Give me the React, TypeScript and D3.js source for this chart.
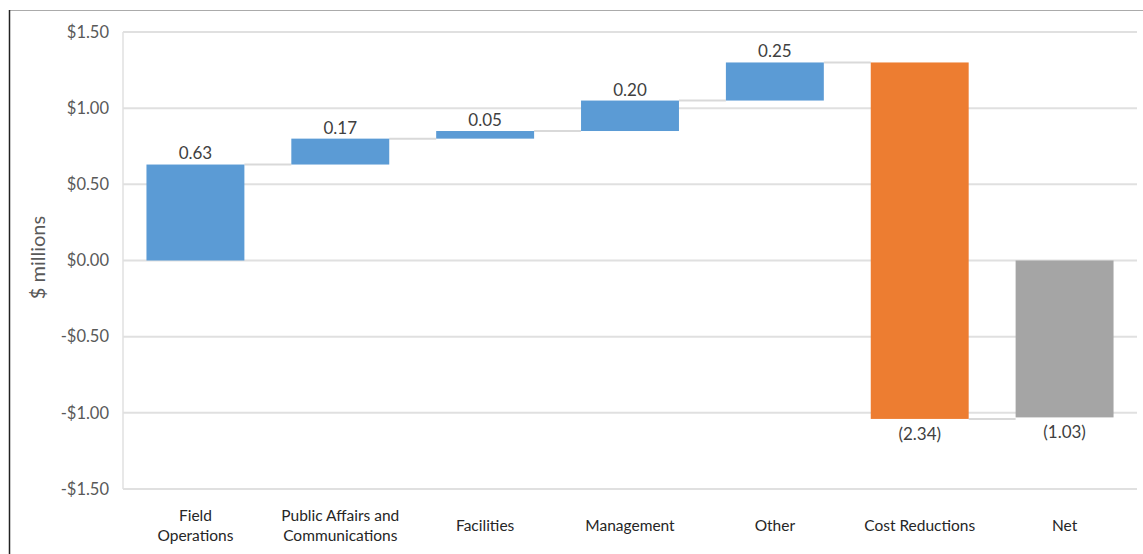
import React from "react";
import * as d3 from "d3";

// Waterfall components, in $ millions
const categories = [
  ["Field", "Operations"],
  ["Public Affairs and", "Communications"],
  ["Facilities"],
  ["Management"],
  ["Other"],
  ["Cost Reductions"],
  ["Net"],
];
const deltas = [0.63, 0.17, 0.05, 0.2, 0.25, -2.34];
const netValue = -1.03;
const dataLabels = ["0.63", "0.17", "0.05", "0.20", "0.25", "(2.34)", "(1.03)"];
const yTicks = [1.5, 1.0, 0.5, 0.0, -0.5, -1.0, -1.5];

const W = 1143;
const H = 554;
const plot = { left: 123, right: 1137, top: 32, bottom: 489 };
const FONT = "Lato, 'Open Sans', sans-serif";

export default function App() {
  const x = d3
    .scaleBand<number>()
    .domain(d3.range(categories.length))
    .range([plot.left, plot.right])
    .paddingInner(0.324)
    .paddingOuter(0.162);
  const y = d3.scaleLinear().domain([-1.5, 1.5]).range([plot.bottom, plot.top]);

  // floating segments
  const bars: { y0: number; y1: number; color: string }[] = [];
  let run = 0;
  deltas.forEach((d, i) => {
    const start = run;
    run += d;
    bars.push({ y0: start, y1: run, color: i === deltas.length - 1 ? "#ED7D31" : "#5B9BD5" });
  });
  bars.push({ y0: 0, y1: netValue, color: "#A5A5A5" });

  const fmt = (v: number) => (v < 0 ? "-$" : "$") + Math.abs(v).toFixed(2);

  return (
    <svg width={W} height={H} style={{ display: "block", position: "absolute", left: 0, top: 0 }}>
      <rect x={0} y={0} width={W} height={H} fill="#fff" />
      {/* frame */}
      <line x1={9} x2={W} y1={10.5} y2={10.5} stroke="#ababab" />
      <line x1={9.5} x2={9.5} y1={10} y2={H} stroke="#222" strokeWidth={1.5} />

      {/* gridlines */}
      {yTicks.map((t) => (
        <line key={t} x1={plot.left} x2={plot.right} y1={y(t)} y2={y(t)} stroke="#e0e0e0" strokeWidth={2} />
      ))}
      <line x1={plot.left} x2={plot.left} y1={plot.top} y2={plot.bottom} stroke="#e0e0e0" strokeWidth={1.5} />

      {/* tick labels */}
      {yTicks.map((t) => (
        <text
          key={"t" + t}
          x={109}
          y={y(t)}
          dy="0.35em"
          textAnchor="end"
          fontFamily={FONT}
          fontSize={16.5}
          fill="#595959"
        >
          {fmt(t)}
        </text>
      ))}

      <text
        transform={`translate(38,${(plot.top + plot.bottom) / 2 - 3}) rotate(-90)`}
        textAnchor="middle"
        dy="0.35em"
        fontFamily={FONT}
        fontSize={20}
        fill="#595959"
      >
        $ millions
      </text>

      {/* connectors */}
      {bars.slice(0, -1).map((b, i) => {
        const yy = y(b.y1);
        return (
          <line
            key={"c" + i}
            x1={x(i)! + x.bandwidth()}
            x2={x(i + 1)!}
            y1={yy}
            y2={yy}
            stroke="#d9d9d9"
            strokeWidth={2}
          />
        );
      })}

      {/* bars */}
      {bars.map((b, i) => (
        <rect
          key={"b" + i}
          x={x(i)}
          width={x.bandwidth()}
          y={y(Math.max(b.y0, b.y1))}
          height={Math.abs(y(b.y0) - y(b.y1))}
          fill={b.color}
        />
      ))}

      {/* data labels */}
      {bars.map((b, i) => {
        const neg = b.y1 < b.y0;
        const yy = neg ? y(Math.min(b.y0, b.y1)) + 15 : y(Math.max(b.y0, b.y1)) - 11;
        return (
          <text
            key={"l" + i}
            x={x(i)! + x.bandwidth() / 2}
            y={yy}
            dy="0.35em"
            textAnchor="middle"
            fontFamily={FONT}
            fontSize={17}
            fill="#404040"
          >
            {dataLabels[i]}
          </text>
        );
      })}

      {/* category labels */}
      {categories.map((lines, i) => (
        <text
          key={"x" + i}
          x={x(i)! + x.bandwidth() / 2}
          y={526 - ((lines.length - 1) * 20) / 2}
          textAnchor="middle"
          fontFamily={FONT}
          fontSize={15.5}
          fill="#262626"
        >
          {lines.map((ln, k) => (
            <tspan key={k} x={x(i)! + x.bandwidth() / 2} dy={k === 0 ? "0.35em" : 20}>
              {ln}
            </tspan>
          ))}
        </text>
      ))}
    </svg>
  );
}
